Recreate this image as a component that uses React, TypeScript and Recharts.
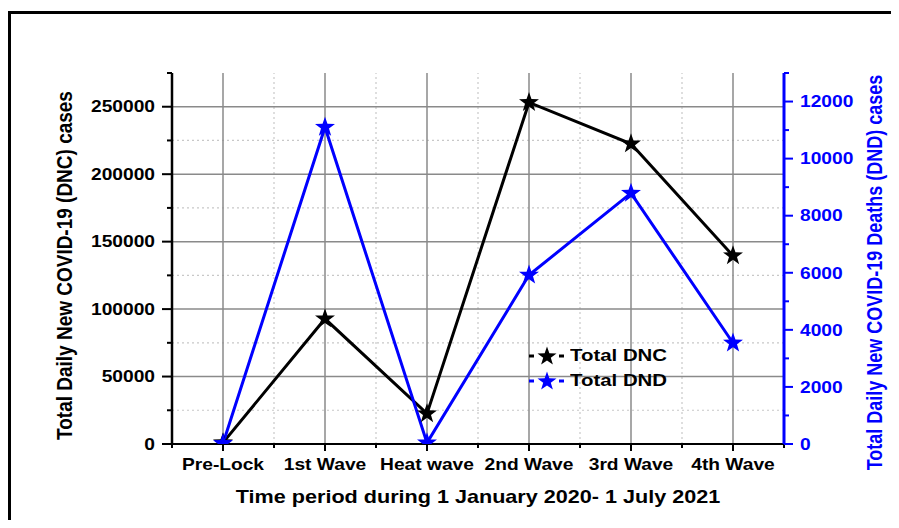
import React from "react";
import { LineChart, Line, XAxis, YAxis, ReferenceLine, Label } from "recharts";

// periods and the two series (DNC on the left axis, DND on the right)
const categories = ["Pre-Lock", "1st Wave", "Heat wave", "2nd Wave", "3rd Wave", "4th Wave"];
const dncCases = [1000, 92800, 22500, 253200, 222500, 139600];
const dndCases = [20, 11100, 40, 5920, 8790, 3540];

const seriesNames = ["Total DNC", "Total DND"];
const seriesColors = ["#000000", "#0000ff"];

// tick positions (majors get labels, minors are short marks)
const xMajor = [0, 1, 2, 3, 4, 5];
const xMinor = [-0.5, 0.5, 1.5, 2.5, 3.5, 4.5, 5.5];
const dncTicks = [0, 25000, 50000, 75000, 100000, 125000, 150000, 175000, 200000, 225000, 250000, 275000];
const dndTicks = [0, 1000, 2000, 3000, 4000, 5000, 6000, 7000, 8000, 9000, 10000, 11000, 12000, 13000];

const data = categories.map((name, i) => ({ idx: i, name, dnc: dncCases[i], dnd: dndCases[i] }));
const xTicks = [...xMajor, ...xMinor].sort((a, b) => a - b);

const FONT = "'Liberation Sans', Arial, Helvetica, sans-serif";
const WIDE = 1.2; // glyphs are drawn a bit wider than tall

// bold text, widened horizontally (or along its own height when rotated)
function WideText(props: any) {
  const { x, y, rotate, size, color, anchor, dy, children } = props;
  const transform = rotate
    ? `translate(${x} ${y}) rotate(-90) scale(1 ${WIDE})`
    : `translate(${x} ${y}) scale(${WIDE} 1)`;
  return (
    <g transform={transform}>
      <text
        x={0}
        y={0}
        dy={dy}
        textAnchor={anchor}
        fill={color}
        style={{ fontFamily: FONT, fontWeight: 700, fontSize: size }}
      >
        {children}
      </text>
    </g>
  );
}

function starPoints(cx: number, cy: number, R: number, r: number) {
  const pts: string[] = [];
  for (let i = 0; i < 10; i++) {
    const rad = i % 2 === 0 ? R : r;
    const a = -Math.PI / 2 + (i * Math.PI) / 5;
    pts.push(`${cx + rad * Math.cos(a)},${cy + rad * Math.sin(a)}`);
  }
  return pts.join(" ");
}

function StarDot(props: any) {
  const { cx, cy, fill } = props;
  if (cx == null || cy == null) return null;
  return <polygon points={starPoints(cx, cy, 10.5, 4.2)} fill={fill} />;
}

function BottomTick(props: any) {
  const { x, y, payload } = props;
  const axisY = y - 14;
  const major = Number.isInteger(payload.value);
  return (
    <g>
      <line x1={x} x2={x} y1={axisY} y2={axisY + (major ? 7 : 4)} stroke="#000" strokeWidth={2} />
      {major && (
        <WideText x={x} y={y} dy="0.72em" anchor="middle" size={16} color="#000">
          {categories[payload.value]}
        </WideText>
      )}
    </g>
  );
}

function LeftTick(props: any) {
  const { x, y, payload } = props;
  const axisX = x + 17;
  const major = payload.value % 50000 === 0;
  return (
    <g>
      <line x1={axisX - (major ? 10 : 5)} x2={axisX} y1={y} y2={y} stroke="#000" strokeWidth={2} />
      {major && (
        <WideText x={x} y={y} dy="0.36em" anchor="end" size={16} color="#000">
          {payload.value}
        </WideText>
      )}
    </g>
  );
}

function RightTick(props: any) {
  const { x, y, payload } = props;
  const axisX = x - 16;
  const major = payload.value % 2000 === 0;
  return (
    <g>
      <line x1={axisX} x2={axisX + (major ? 9 : 5)} y1={y} y2={y} stroke="#0000ff" strokeWidth={2} />
      {major && (
        <WideText x={x} y={y} dy="0.36em" anchor="start" size={16} color="#0000ff">
          {payload.value}
        </WideText>
      )}
    </g>
  );
}

function LeftTitle(props: any) {
  const vb = props.viewBox;
  return (
    <WideText x={vb.x + 56} y={vb.y + vb.height / 2 + 7} dy="0.36em" rotate anchor="middle" size={19} color="#000">
      Total Daily New COVID-19 (DNC) cases
    </WideText>
  );
}

function RightTitle(props: any) {
  const vb = props.viewBox;
  return (
    <WideText x={vb.x + 90} y={vb.y + vb.height / 2 + 14} dy="0.36em" rotate anchor="middle" size={18} color="#0000ff">
      Total Daily New COVID-19 Deaths (DND) cases
    </WideText>
  );
}

function BottomTitle(props: any) {
  const vb = props.viewBox;
  return (
    <WideText x={vb.x + vb.width / 2} y={vb.y + 53} dy="0.36em" anchor="middle" size={18} color="#000">
      Time period during 1 January 2020- 1 July 2021
    </WideText>
  );
}

function LegendBox() {
  return (
    <div style={{ position: "absolute", left: 521, top: 335, fontFamily: FONT }}>
      {seriesNames.map((name, i) => (
        <div key={name} style={{ display: "flex", alignItems: "center", height: 25 }}>
          <svg width={38} height={22}>
            <line x1={0} x2={5} y1={11} y2={11} stroke={seriesColors[i]} strokeWidth={3} />
            <polygon points={starPoints(18, 11.5, 10, 4)} fill={seriesColors[i]} />
            <line x1={30} x2={35} y1={11} y2={11} stroke={seriesColors[i]} strokeWidth={3} />
          </svg>
          <span
            style={{
              display: "inline-block",
              marginLeft: 3,
              fontWeight: 700,
              fontSize: 17,
              color: "#000",
              transform: `scaleX(${WIDE})`,
              transformOrigin: "left center",
              whiteSpace: "nowrap",
            }}
          >
            {name}
          </span>
        </div>
      ))}
    </div>
  );
}

export default function App() {
  return (
    <div style={{ position: "relative", width: 891, height: 512, overflow: "hidden", background: "#fff" }}>
      <div
        style={{
          position: "absolute",
          left: 0,
          top: 3,
          width: 2000,
          height: 2000,
          borderTop: "3px solid #000",
          borderLeft: "3px solid #000",
        }}
      />
      <div style={{ position: "absolute", left: 0, top: 0 }}>
        <LineChart width={891} height={512} data={data} margin={{ top: 65, right: 0, bottom: 0, left: 0 }}>
          <XAxis
            xAxisId="main"
            dataKey="idx"
            type="number"
            domain={[-0.5, 5.5]}
            ticks={xTicks}
            interval={0}
            allowDataOverflow
            height={76}
            tickSize={8}
            tickMargin={6}
            tickLine={false}
            tick={<BottomTick />}
            axisLine={{ stroke: "#000", strokeWidth: 2 }}
          >
            <Label content={<BottomTitle />} />
          </XAxis>
          <XAxis
            xAxisId="top"
            orientation="top"
            dataKey="idx"
            type="number"
            domain={[-0.5, 5.5]}
            ticks={xMajor}
            interval={0}
            height={0}
            mirror
            tick={false}
            tickSize={7}
            tickLine={{ stroke: "#000", strokeWidth: 2 }}
            axisLine={{ stroke: "#000", strokeWidth: 2 }}
          />
          <YAxis
            yAxisId="dnc"
            domain={[0, 275000]}
            ticks={dncTicks}
            interval={0}
            allowDataOverflow
            width={164}
            tickSize={10}
            tickMargin={7}
            tickLine={false}
            tick={<LeftTick />}
            axisLine={{ stroke: "#000", strokeWidth: 2.5 }}
          >
            <Label content={<LeftTitle />} />
          </YAxis>
          <YAxis
            yAxisId="dnd"
            orientation="right"
            domain={[0, 13000]}
            ticks={dndTicks}
            interval={0}
            allowDataOverflow
            width={115}
            tickSize={9}
            tickMargin={7}
            tickLine={false}
            tick={<RightTick />}
            axisLine={{ stroke: "#0000ff", strokeWidth: 3 }}
          >
            <Label content={<RightTitle />} />
          </YAxis>

          {xMinor.slice(1, -1).map((v) => (
            <ReferenceLine key={`xm${v}`} xAxisId="main" yAxisId="dnc" x={v} stroke="#c8c8c8" strokeWidth={1.2} strokeDasharray="2 3" zIndex={-50} />
          ))}
          {dncTicks.filter((v) => v % 50000 !== 0 && v < 275000).map((v) => (
            <ReferenceLine key={`ym${v}`} xAxisId="main" yAxisId="dnc" y={v} stroke="#c8c8c8" strokeWidth={1.2} strokeDasharray="2 3" zIndex={-50} />
          ))}
          {xMajor.map((v) => (
            <ReferenceLine key={`xM${v}`} xAxisId="main" yAxisId="dnc" x={v} stroke="#8a8a8a" strokeWidth={1.5} zIndex={-40} />
          ))}
          {dncTicks.filter((v) => v % 50000 === 0 && v > 0).map((v) => (
            <ReferenceLine key={`yM${v}`} xAxisId="main" yAxisId="dnc" y={v} stroke="#8a8a8a" strokeWidth={1.5} zIndex={-40} />
          ))}

          <Line
            xAxisId="main"
            yAxisId="dnc"
            dataKey="dnc"
            name={seriesNames[0]}
            stroke={seriesColors[0]}
            strokeWidth={3}
            dot={<StarDot fill={seriesColors[0]} />}
            activeDot={false}
            isAnimationActive={false}
          />
          <Line
            xAxisId="main"
            yAxisId="dnd"
            dataKey="dnd"
            name={seriesNames[1]}
            stroke={seriesColors[1]}
            strokeWidth={3}
            dot={<StarDot fill={seriesColors[1]} />}
            activeDot={false}
            isAnimationActive={false}
          />
        </LineChart>
      </div>
      <LegendBox />
    </div>
  );
}
